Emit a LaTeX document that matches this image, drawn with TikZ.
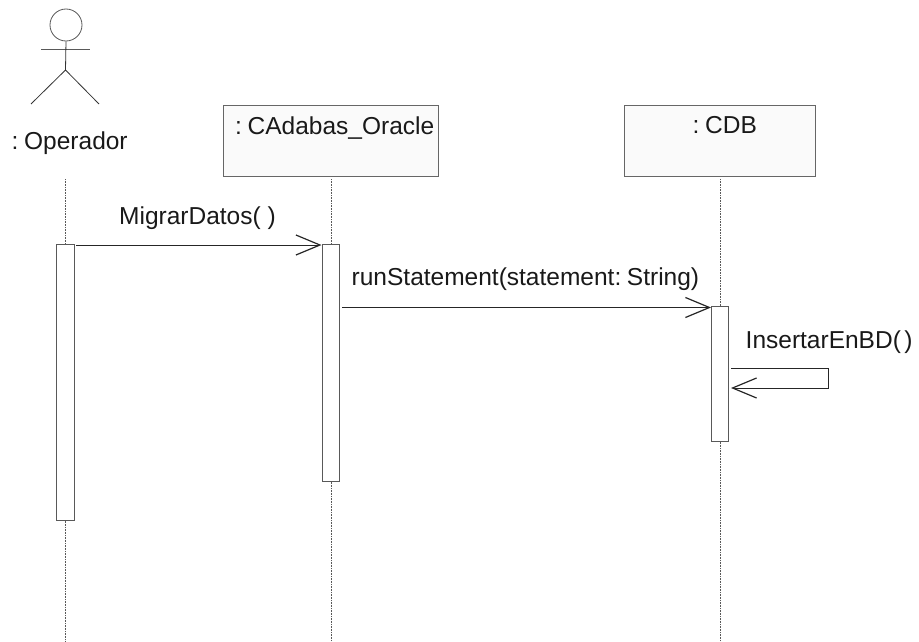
\documentclass[tikz,border=0pt]{standalone}
\usepackage{fontspec}
\setmainfont[WordSpace=0.5]{Liberation Sans}
\usetikzlibrary{arrows.meta}
\tikzset{
  x=1pt,y=-1pt,
  lbl/.style={inner sep=0pt,anchor=base west,font=\fontsize{24.5}{28}\selectfont,text=black!90},
  objbox/.style={draw=black!60,fill=black!2,line width=1pt,inner sep=0pt,minimum height=70pt},
  actbox/.style={draw=black!65,fill=white,line width=1pt,inner sep=0pt},
  life/.style={draw=black!65,line width=.6pt,densely dotted},
  msg/.style={draw=black!85,line width=.8pt,-{Straight Barb[length=24pt,width=20pt,line width=1.2pt]}},
  limb/.style={draw=black!80,line width=.8pt},
}
\begin{document}
\begin{tikzpicture}
\useasboundingbox (0,0) rectangle (919,642);
% actor
\node[circle,draw=black!65,line width=.8pt,inner sep=0pt,minimum size=32pt] (head) at (66,25) {};
\coordinate (armL) at (41,49);
\coordinate (armR) at (90,49);
\coordinate (neck) at (65.5,49);
\coordinate (hip) at (65.5,70);
\coordinate (legL) at (31,104);
\coordinate (legR) at (99,104);
\draw[limb,draw=black!65] (armL) -- (armR);
\draw[limb] (head.south) -- (hip);
\draw[limb] (legL) -- (hip) -- (legR);
\node[lbl] (op) at (11.5,149) {: Operador};
% objects
\node[objbox,minimum width=215pt] (oracle) at (330.5,141) {};
\node[objbox,minimum width=191pt] (cdb) at (719.5,141) {};
\node[lbl] (oraclet) at (235,134) {: CAdabas\_Oracle};
\node[lbl] (cdbt) at (692.5,133.5) {: CDB};
% activations
\node[actbox,minimum width=18pt,minimum height=276pt] (a1) at (65,382) {};
\node[actbox,minimum width=17pt,minimum height=237pt] (a2) at (330.5,362.5) {};
\node[actbox,minimum width=17pt,minimum height=135pt] (a3) at (720,373.5) {};
% lifelines
\coordinate (l1t) at (65,179);
\coordinate (l1b) at (65,642);
\coordinate (l2t) at (331,179);
\coordinate (l2b) at (331,642);
\coordinate (l3t) at (720.5,179);
\coordinate (l3b) at (720.5,642);
\draw[life] (l1t) -- (l1t |- a1.north);
\draw[life] (l1t |- a1.south) -- (l1b);
\draw[life] (l2t) -- (l2t |- a2.north);
\draw[life] (l2t |- a2.south) -- (l2b);
\draw[life] (l3t) -- (l3t |- a3.north);
\draw[life] (l3t |- a3.south) -- (l3b);
% messages
\coordinate (m1s) at (76,245);
\coordinate (m2s) at (342,307.5);
\coordinate (m3s) at (731,368);
\coordinate (m3a) at (828,368);
\coordinate (m3b) at (828,388);
\coordinate (m3e) at (731,388);
\draw[msg] (m1s) -- (m1s -| a2.west);
\draw[msg] (m2s) -- (m2s -| a3.west);
\draw[msg] (m3s) -- (m3a) -- (m3b) -- (m3e);
\node[lbl] (t1) at (119,224.5) {MigrarDatos(\hspace{.14em} )};
\node[lbl] (t2) at (351.5,285.5) {runStatement(statement: String)};
\node[lbl] (t3) at (745.5,348) {InsertarEnBD( )};
\end{tikzpicture}
\end{document}
